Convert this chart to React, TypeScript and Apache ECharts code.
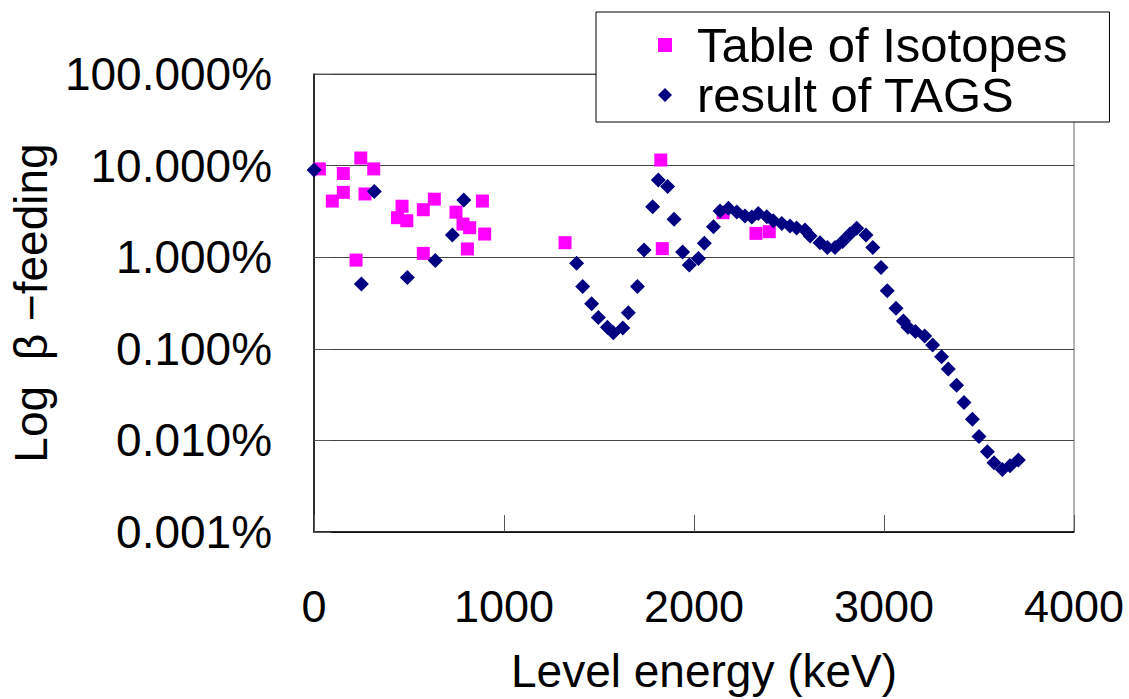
import React, { useEffect, useRef } from "react";
import * as echarts from "echarts";

// Table of Isotopes (level energy keV, beta feeding %)
const toiEnergy = [28, 96, 154, 154, 221, 246, 268, 314, 439, 463, 488, 575, 575, 633, 747, 784, 807, 819, 886, 898, 1321, 1825, 1833, 2153, 2326, 2396];
const toiFeeding = [9.2, 4.1, 8.2, 5.1, 0.93, 12.1, 4.9, 9.2, 2.7, 3.6, 2.5, 3.3, 1.1, 4.3, 3.1, 2.3, 1.23, 2.1, 4.1, 1.79, 1.44, 11.5, 1.24, 3.06, 1.82, 1.9];

// result of TAGS
const tagsEnergy = [0, 249, 317, 491, 638, 728, 788, 1382, 1414, 1461, 1496, 1544, 1575, 1625, 1654, 1702, 1737, 1782, 1812, 1861, 1895, 1940, 1975, 2023, 2054, 2102, 2137, 2181, 2225, 2268, 2304, 2338, 2383, 2417, 2462, 2505, 2540, 2584, 2611, 2663, 2702, 2742, 2782, 2821, 2856, 2905, 2941, 2984, 3017, 3063, 3102, 3126, 3165, 3214, 3256, 3303, 3338, 3382, 3421, 3465, 3500, 3544, 3579, 3623, 3663, 3707];
const tagsFeeding = [8.96, 0.51, 5.2, 0.6, 0.92, 1.75, 4.2, 0.86, 0.48, 0.31, 0.22, 0.172, 0.15, 0.169, 0.248, 0.48, 1.2, 3.56, 6.96, 5.9, 2.59, 1.14, 0.82, 0.97, 1.42, 2.15, 3.19, 3.42, 3.12, 2.82, 2.74, 3.0, 2.77, 2.5, 2.34, 2.19, 2.08, 1.98, 1.7, 1.44, 1.28, 1.28, 1.48, 1.79, 2.07, 1.75, 1.28, 0.77, 0.43, 0.277, 0.201, 0.172, 0.154, 0.138, 0.11, 0.082, 0.06, 0.04, 0.026, 0.017, 0.011, 0.0075, 0.0057, 0.0048, 0.0053, 0.0061];

const seriesNames = ["Table of Isotopes", "result of TAGS"];
const xTicks = { min: 0, max: 4000, interval: 1000 };
const yRange = { min: 0.001, max: 100 };
const xTitle = "Level energy (keV)";
const yTitle = "Log  β −feeding";

const FONT = "'Liberation Sans', Arial, sans-serif";

export default function App() {
  const ref = useRef<HTMLDivElement>(null);
  useEffect(() => {
    if (!ref.current) return;
    const chart = echarts.init(ref.current, undefined, { renderer: "svg" });
    const toiData = toiEnergy.map((x, i) => [x, toiFeeding[i]]);
    const tagsData = tagsEnergy.map((x, i) => [x, tagsFeeding[i]]);
    chart.setOption({
      animation: false,
      backgroundColor: "#fff",
      textStyle: { fontFamily: FONT },
      grid: {
        left: 314,
        top: 74,
        width: 760,
        height: 458,
        show: true,
        borderColor: "#666",
        borderWidth: 1,
      },
      legend: {
        orient: "vertical",
        left: 596,
        top: 12,
        data: [
          { name: seriesNames[0], icon: "rect" },
          { name: seriesNames[1], icon: "diamond" },
        ],
        itemWidth: 14,
        itemHeight: 14,
        itemGap: 0,
        padding: [8, 42, 2, 62],
        backgroundColor: "#fff",
        borderColor: "#000",
        borderWidth: 1,
        textStyle: {
          fontFamily: FONT,
          fontSize: 49,
          color: "#000",
          lineHeight: 50,
          padding: [0, 0, 0, 20],
        },
      },
      xAxis: {
        type: "value",
        min: xTicks.min,
        max: xTicks.max,
        interval: xTicks.interval,
        name: xTitle,
        nameLocation: "middle",
        nameGap: 116,
        nameTextStyle: { fontFamily: FONT, fontSize: 46, color: "#000", padding: [0, 0, 0, 20] },
        axisLine: { show: true, lineStyle: { color: "#000", width: 1.5 } },
        axisTick: { show: true, inside: true, length: 17, lineStyle: { color: "#555" } },
        axisLabel: {
          fontFamily: FONT,
          fontSize: 45,
          color: "#000",
          margin: 52,
          formatter: (v: number) => String(v),
        },
        splitLine: { show: false },
      },
      yAxis: {
        type: "log",
        logBase: 10,
        min: yRange.min,
        max: yRange.max,
        name: yTitle,
        nameLocation: "middle",
        nameGap: 250,
        nameRotate: 90,
        nameTextStyle: { fontFamily: FONT, fontSize: 46, color: "#000" },
        axisLine: { show: true, lineStyle: { color: "#000", width: 1.5 } },
        axisTick: { show: true, inside: true, length: 17, lineStyle: { color: "#555" } },
        axisLabel: {
          fontFamily: FONT,
          fontSize: 46,
          color: "#000",
          margin: 42,
          formatter: (v: number) => v.toFixed(3) + "%",
        },
        splitLine: { show: true, lineStyle: { color: "#444", width: 1 } },
        minorTick: { show: false },
      },
      series: [
        {
          name: seriesNames[0],
          type: "scatter",
          symbol: "rect",
          symbolSize: 13,
          itemStyle: { color: "#FF00FF", opacity: 1 },
          data: toiData,
          z: 2,
        },
        {
          name: seriesNames[1],
          type: "scatter",
          symbol: "diamond",
          symbolSize: 15,
          itemStyle: { color: "#000080", opacity: 1 },
          data: tagsData,
          z: 3,
        },
      ],
    });
    return () => chart.dispose();
  }, []);
  return (
    <div
      ref={ref}
      style={{ position: "fixed", left: 0, top: 0, width: 1129, height: 699, background: "#fff" }}
    />
  );
}
